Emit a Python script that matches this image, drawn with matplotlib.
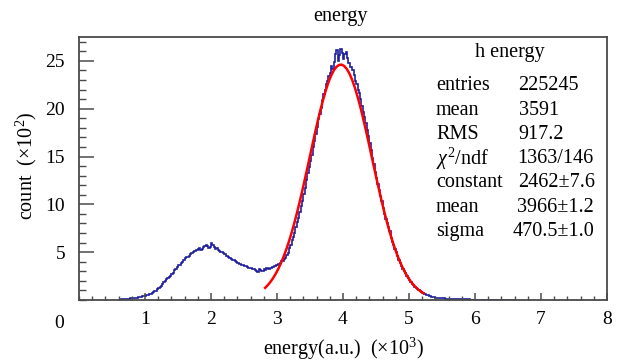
import numpy as np
import matplotlib
matplotlib.use("Agg")
import matplotlib.pyplot as plt
from matplotlib.ticker import MultipleLocator

plt.rcParams['font.family'] = ['Liberation Serif', 'DejaVu Serif']
plt.rcParams['mathtext.fontset'] = 'custom'
plt.rcParams['mathtext.rm'] = 'Liberation Serif'
plt.rcParams['mathtext.it'] = 'Liberation Serif:italic'

'''Histogram (x10^3 energy, x10^2 counts), bins of 0.02 starting at 0.60'''
bin_lo = 0.60
bin_w = 0.02
counts = [
    # 0.60 - 3.00
    0.03, 0.05, 0.06, 0.09, 0.09, 0.11, 0.11, 0.13, 0.14, 0.16, 0.17, 0.19,
    0.21, 0.24, 0.26, 0.30, 0.31, 0.35, 0.37, 0.43, 0.45, 0.52, 0.57, 0.63,
    0.66, 0.74, 0.80, 0.90, 0.98, 1.12, 1.22, 1.38, 1.50, 1.68, 1.85, 2.02,
    2.20, 2.28, 2.40, 2.52, 2.68, 2.85, 3.10, 3.28, 3.50, 3.62, 3.70, 3.82,
    4.02, 4.20, 4.35, 4.45, 4.50, 4.62, 4.80, 4.92, 5.00, 5.10, 5.10, 5.22,
    5.35, 5.45, 5.25, 5.38, 5.50, 5.62, 5.75, 5.60, 5.45, 5.58, 5.95, 5.70,
    5.50, 5.38, 5.40, 5.28, 5.15, 5.05, 5.05, 4.92, 4.78, 4.62, 4.58, 4.50,
    4.35, 4.25, 4.22, 4.15, 4.10, 3.98, 3.85, 3.75, 3.78, 3.70, 3.62, 3.58,
    3.52, 3.45, 3.38, 3.32, 3.35, 3.25, 3.22, 3.15, 3.05, 2.95, 3.28, 3.18,
    3.08, 3.00, 3.22, 3.15, 3.35, 3.25, 3.22, 3.30, 3.40, 3.50, 3.55, 3.65,
    # 3.00 - 5.24
    3.62, 3.80, 3.92, 4.08, 4.05, 4.25, 4.40, 4.70, 4.95, 5.45, 5.75, 6.25,
    6.55, 7.05, 7.60, 8.20, 8.60, 9.20, 9.80, 10.4, 11.1, 11.7, 12.5, 13.3,
    13.9, 14.5, 15.2, 16.0, 16.6, 17.4, 18.1, 18.9, 19.5, 20.1, 20.9, 21.5,
    22.0, 22.6, 22.9, 23.4, 23.7, 24.5, 24.2, 24.9, 25.7, 26.1, 25.0, 25.6,
    26.2, 25.8, 25.2, 25.7, 25.9, 25.3, 24.8, 24.4, 24.4, 24.0, 23.5, 22.9,
    22.6, 22.0, 21.6, 21.0, 20.3, 19.7, 19.1, 18.5, 17.8, 17.2, 16.4, 15.7,
    14.9, 14.2, 13.4, 12.8, 12.1, 11.5, 10.9, 10.3, 9.6, 9.0, 8.5, 8.1,
    7.6, 7.2, 6.5, 6.1, 5.7, 5.3, 5.0, 4.6, 4.2, 3.9, 3.55, 3.25,
    3.00, 2.80, 2.50, 2.30, 2.10, 1.90, 1.70, 1.52, 1.36, 1.24, 1.10, 1.00,
    0.90, 0.80, 0.72, 0.64,
    # 5.24 - 6.60
    0.58, 0.52, 0.48, 0.42, 0.38, 0.34, 0.31, 0.28, 0.25, 0.23, 0.22, 0.20,
    0.19, 0.17, 0.16, 0.15, 0.14, 0.13, 0.12, 0.12, 0.11, 0.10, 0.10, 0.09,
    0.09, 0.08, 0.08, 0.08, 0.07, 0.07, 0.07, 0.06, 0.06, 0.06, 0.05, 0.05,
    0.05, 0.05, 0.05, 0.04, 0.04, 0.04, 0.04, 0.04, 0.04, 0.03, 0.03, 0.03,
    0.03, 0.03, 0.03, 0.03, 0.03, 0.02, 0.02, 0.02, 0.02, 0.02, 0.02, 0.02,
    0.02, 0.02, 0.01, 0.01, 0.01, 0.01, 0.01, 0.01,
]

'''Gaussian fit curve, read off the picture'''
fit_x = [round(2.82 + 0.04 * i, 2) for i in range(61)]
fit_y = [
    1.27, 1.55, 1.89, 2.28, 2.74, 3.26, 3.86, 4.53, 5.27, 6.10,
    7.00, 7.98, 9.04, 10.16, 11.33, 12.56, 13.81, 15.08, 16.34, 17.58,
    18.79, 19.93, 20.97, 21.94, 22.78, 23.46, 24.00, 24.38, 24.58, 24.61,
    24.46, 24.13, 23.64, 22.99, 22.20, 21.28, 20.26, 19.14, 17.95, 16.72,
    15.45, 14.19, 12.93, 11.70, 10.50, 9.37, 8.30, 7.29, 6.36, 5.51,
    4.74, 4.05, 3.43, 2.89, 2.41, 2.00, 1.65, 1.35, 1.10, 0.88, 0.71,
]

stat_names = ["entries", "mean", "RMS", r"$\it{\chi}^2$/ndf", "constant", "mean", "sigma"]
stat_values = ["225245", "3591", "917.2", "1363/146", "2462\u00b17.6", "3966\u00b11.2", "470.5\u00b11.0"]


def main():
    W, H = 617, 364
    fig = plt.figure(figsize=(W / 100, H / 100), dpi=100)
    ax = fig.add_axes([79 / W, 1 - 300 / H, 528 / W, 263 / H])

    edges = bin_lo + bin_w * np.arange(len(counts) + 1)
    ax.stairs(counts, edges, color='#1f1fa0', lw=1.2)
    ax.plot(fit_x, fit_y, color='#ff0000', lw=1.8)

    ax.set_xlim(0, 8)
    ax.set_ylim(0, 27.5)

    frame_col = '#4a4a4a'
    for s in ax.spines.values():
        s.set_color(frame_col)
        s.set_linewidth(1.3)

    ax.xaxis.set_major_locator(MultipleLocator(1))
    ax.xaxis.set_minor_locator(MultipleLocator(0.2))
    ax.yaxis.set_major_locator(MultipleLocator(5))
    ax.yaxis.set_minor_locator(MultipleLocator(1))
    ax.tick_params(axis='x', which='major', direction='in', length=5.2, width=1.1,
                   color=frame_col, labelsize=14, pad=8)
    ax.tick_params(axis='x', which='minor', direction='in', length=2.6, width=1.0,
                   color=frame_col)
    ax.tick_params(axis='y', which='major', direction='in', length=11, width=1.1,
                   color=frame_col, labelsize=14, pad=10)
    ax.tick_params(axis='y', which='minor', direction='in', length=5.2, width=1.0,
                   color=frame_col)
    ax.set_xticks([1, 2, 3, 4, 5, 6, 7, 8])
    ax.set_yticks([5, 10, 15, 20, 25])

    fig.text(64 / W, 1 - 323 / H, "0", fontsize=14, ha='right', va='center')

    fig.text(340 / W, 1 - 16 / H, "energy", fontsize=14.5, ha='center', va='center')
    fig.text(343 / W, 1 - 349 / H, r"energy(a.u.)  ($\times$10$^3$)", fontsize=14.5,
             ha='center', va='center')
    fig.text(26 / W, 1 - 166 / H, r"count  ($\times$10$^2$)", fontsize=14.5,
             ha='center', va='center', rotation=90)

    '''Stats box text'''
    fig.text(510 / W, 1 - 53 / H, "h energy", fontsize=14.5, ha='center', va='center')
    val_x = [518, 519, 518, 517, 518, 517, 513]
    for i, (name, val) in enumerate(zip(stat_names, stat_values)):
        y = 1 - (86 + 24.2 * i) / H
        fig.text(436 / W, y, name, fontsize=14.5, ha='left', va='center')
        fig.text(val_x[i] / W, y, val, fontsize=14.5, ha='left', va='center')

    fig.savefig("out.png", dpi=100)


if __name__ == '__main__':
    main()
